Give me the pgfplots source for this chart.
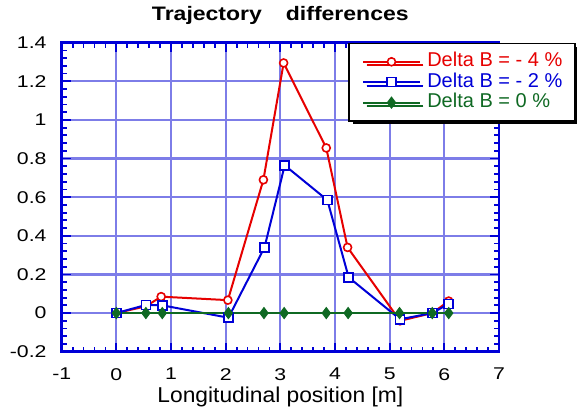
\documentclass[border=0pt]{standalone}
\usepackage{pgfplots}
\pgfplotsset{compat=1.18}
\usetikzlibrary{shadows}
\usepackage{fontspec}
\setmainfont{Liberation Sans}
\newfontfamily\tickfont[FakeStretch=1.25]{Liberation Sans}
\newfontfamily\titlefont[FakeStretch=1.18]{Liberation Sans}
\newfontfamily\labelfont[FakeStretch=1.06]{Liberation Sans}

\definecolor{cred}{RGB}{230,0,0}
\definecolor{cblue}{RGB}{0,0,215}
\definecolor{cgreen}{RGB}{15,105,35}
\definecolor{cgrid}{RGB}{125,125,232}

\begin{document}
\begin{tikzpicture}
\path[use as bounding box] (-61.7bp,-59.3bp) rectangle (515.3bp,351.7bp);
\begin{axis}[
    scale only axis, width=437.3bp, height=309bp,
    xmin=-1, xmax=7, ymin=-0.2, ymax=1.4,
    xtick={-1,0,1,2,3,4,5,6,7},
    ytick={-0.2,0,0.2,0.4,0.6,0.8,1,1.2,1.4},
    minor x tick num=4, minor y tick num=4,
    grid=major,
    major grid style={cgrid, line width=2.2bp},
    axis line style={cblue, line width=2.6bp},
    every tick/.style={cblue, line width=1.8bp},
    major tick length=9bp, minor tick length=5bp,
    tick align=inside,
    /pgf/number format/assume math mode=true,
    ticklabel style={font=\tickfont\fontsize{17bp}{17bp}\selectfont, inner sep=0pt},
    yticklabel style={anchor=east, xshift=-15bp},
    xticklabel style={anchor=north, yshift=-16.3bp},
    title={\titlefont\bfseries Trajectory\hspace{24bp}differences},
    title style={font=\fontsize{19.5bp}{19.5bp}\selectfont, at={(0.5,1)}, anchor=base, yshift=16bp, inner sep=0pt},
    xlabel={Longitudinal position [m]},
    xlabel style={font=\labelfont\fontsize{21.5bp}{21.5bp}\selectfont, at={(0.5,0)}, anchor=base, yshift=-50.5bp, inner sep=0pt},
    legend cell align=left,
    legend image code/.code={\draw[mark repeat=2, mark phase=2] plot coordinates {(0bp,0bp) (28.3bp,0bp) (56.6bp,0bp)};},
    legend style={at={(0.6554,1)}, anchor=north west, draw=black, line width=1.8bp, fill=white,
        inner xsep=13bp, inner ysep=8.5bp, row sep=1bp,
        font=\fontsize{20bp}{20bp}\selectfont,
        nodes={inner sep=0pt, text height=14.8bp, text depth=4.6bp},
        /tikz/every odd column/.append style={column sep=6.5bp},
        drop shadow={shadow xshift=3.5bp, shadow yshift=-3.5bp, fill=black, opacity=1}},
]
\addplot[cred, line width=2bp, mark=*, mark size=4bp, mark options={fill=white, line width=1.6bp}]
    coordinates {(0,0) (0.54,0.035) (0.82,0.085) (2.04,0.067) (2.69,0.69) (3.06,1.295) (3.84,0.855) (4.23,0.34) (5.19,-0.04) (5.78,0) (6.08,0.062)};
\addplot[cblue, line width=2bp, mark=square*, mark size=4.5bp, mark options={fill=white, line width=1.6bp}]
    coordinates {(0,0) (0.54,0.042) (0.84,0.04) (2.05,-0.024) (2.71,0.34) (3.08,0.765) (3.86,0.585) (4.25,0.185) (5.19,-0.032) (5.78,0) (6.08,0.048)};
\addplot[cgreen, line width=2bp, mark=diamond*, mark size=5.5bp, mark options={fill=cgreen, line width=1bp}]
    coordinates {(0,0) (0.54,0) (0.84,0) (2.05,0) (2.7,0) (3.07,0) (3.84,0) (4.24,0) (5.18,0) (5.78,0) (6.08,0)};
\legend{{\color{cred}Delta B = - 4 \%}, {\color{cblue}Delta B = - 2 \%}, {\color{cgreen}Delta B = 0 \%}}
\end{axis}
\end{tikzpicture}
\end{document}
